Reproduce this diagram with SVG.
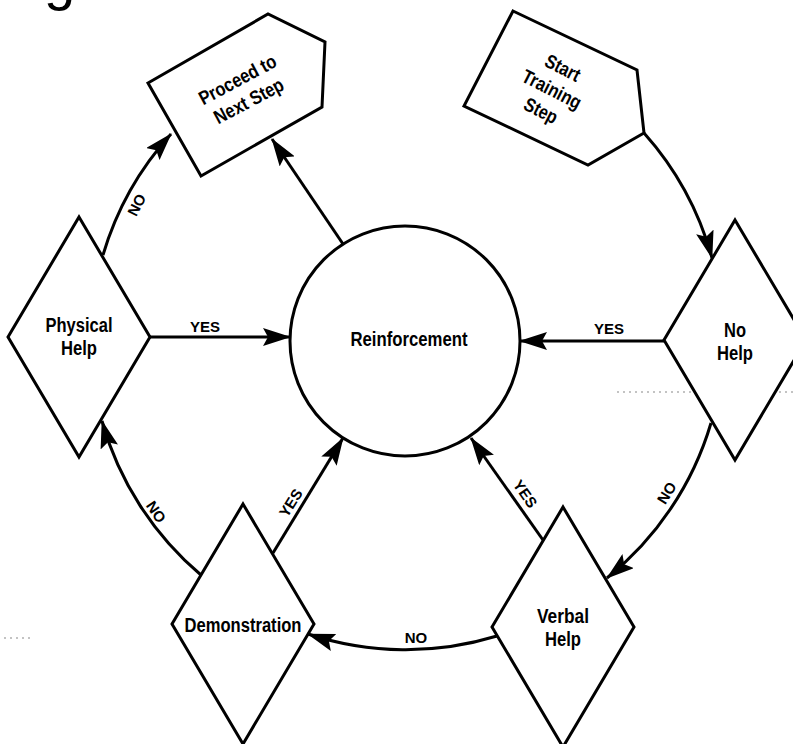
<svg xmlns="http://www.w3.org/2000/svg" width="793" height="744" viewBox="0 0 793 744">
<style>
.shape{fill:#fff;stroke:#000;stroke-width:3;stroke-linejoin:miter}
.conn{fill:none;stroke:#000;stroke-width:3;marker-end:url(#arr)}
.node{font-family:"Liberation Sans Narrow","Liberation Sans",Arial,sans-serif;font-weight:bold;font-size:19.5px;text-anchor:middle;fill:#000}
.lbl{font-family:"Liberation Sans","Arial",sans-serif;font-weight:bold;font-size:15px;text-anchor:middle;fill:#000}
.noise{fill:none;stroke:#888;stroke-width:1.2;stroke-dasharray:2 4}
</style>
<defs>
<marker id="arr" markerUnits="userSpaceOnUse" viewBox="0 0 28 18" refX="27" refY="9" markerWidth="28" markerHeight="18" orient="auto">
<path d="M0,0 L28,9 L0,18 L5,9 z" fill="#000"/>
</marker>
</defs>
<rect width="793" height="744" fill="#fff"/>
<text x="44" y="-1" font-family="Liberation Sans, Arial, sans-serif" font-size="56" fill="#000">g</text>
<path class="noise" d="M617,392 H793"/>
<path class="noise" d="M4,638 H32"/>

<g id="connectors">
<path class="conn" d="M343,244 L272,139"/>
<path class="conn" d="M103,255 A312,312 0 0 1 171,134"/>
<path class="conn" d="M150,337 L290,337"/>
<path class="conn" d="M644,133 A312,312 0 0 1 712,258"/>
<path class="conn" d="M664,341 L520,341"/>
<path class="conn" d="M711,423 A312,312 0 0 1 607,578"/>
<path class="conn" d="M543,540 L471,438"/>
<path class="conn" d="M497,636 A312,312 0 0 1 308,634"/>
<path class="conn" d="M273,553 L343,438"/>
<path class="conn" d="M201,575 A312,312 0 0 1 102,421"/>
</g>

<g id="proceed">
<polygon class="shape" points="148,83 268,14 325,42 322,107 201,176"/>
<g transform="translate(243,90) rotate(-28)">
<text class="node" x="0" y="-5" textLength="85" lengthAdjust="spacingAndGlyphs">Proceed to</text>
<text class="node" x="0" y="19" textLength="76" lengthAdjust="spacingAndGlyphs">Next Step</text>
</g>
</g>

<g id="start">
<polygon class="shape" points="513,11 637,70 644,133 588,165 464,106"/>
<g transform="translate(552,89) rotate(27)">
<text class="node" x="0" y="-17" textLength="37" lengthAdjust="spacingAndGlyphs">Start</text>
<text class="node" x="0" y="7" textLength="64" lengthAdjust="spacingAndGlyphs">Training</text>
<text class="node" x="0" y="31" textLength="35" lengthAdjust="spacingAndGlyphs">Step</text>
</g>
</g>

<g id="reinforcement">
<circle class="shape" cx="405" cy="341" r="115"/>
<text class="node" x="409" y="346" textLength="117" lengthAdjust="spacingAndGlyphs">Reinforcement</text>
</g>

<g id="physical">
<polygon class="shape" points="79,217 150,337 79,457 8,337"/>
<text class="node" x="79" y="332" textLength="67" lengthAdjust="spacingAndGlyphs">Physical</text>
<text class="node" x="79" y="355" textLength="36" lengthAdjust="spacingAndGlyphs">Help</text>
</g>

<g id="nohelp">
<polygon class="shape" points="735,220 806,340 735,460 664,340"/>
<text class="node" x="735" y="337" textLength="22" lengthAdjust="spacingAndGlyphs">No</text>
<text class="node" x="735" y="360" textLength="36" lengthAdjust="spacingAndGlyphs">Help</text>
</g>

<g id="verbal">
<polygon class="shape" points="563,507 634,627 563,747 492,627"/>
<text class="node" x="563" y="623" textLength="52" lengthAdjust="spacingAndGlyphs">Verbal</text>
<text class="node" x="563" y="646" textLength="36" lengthAdjust="spacingAndGlyphs">Help</text>
</g>

<g id="demonstration">
<polygon class="shape" points="243,504 314,624 243,744 172,624"/>
<text class="node" x="243" y="632" textLength="117" lengthAdjust="spacingAndGlyphs">Demonstration</text>
</g>

<g id="labels">
<text class="lbl" x="205" y="332">YES</text>
<text class="lbl" x="609" y="334">YES</text>
<text class="lbl" x="416" y="643">NO</text>
<text class="lbl" transform="translate(137,205) rotate(-63)" y="5">NO</text>
<text class="lbl" transform="translate(156,512) rotate(56)" y="5">NO</text>
<text class="lbl" transform="translate(667,493) rotate(-58)" y="5">NO</text>
<text class="lbl" transform="translate(525,494) rotate(55)" y="5">YES</text>
<text class="lbl" transform="translate(291,503) rotate(-58)" y="5">YES</text>
</g>
</svg>
